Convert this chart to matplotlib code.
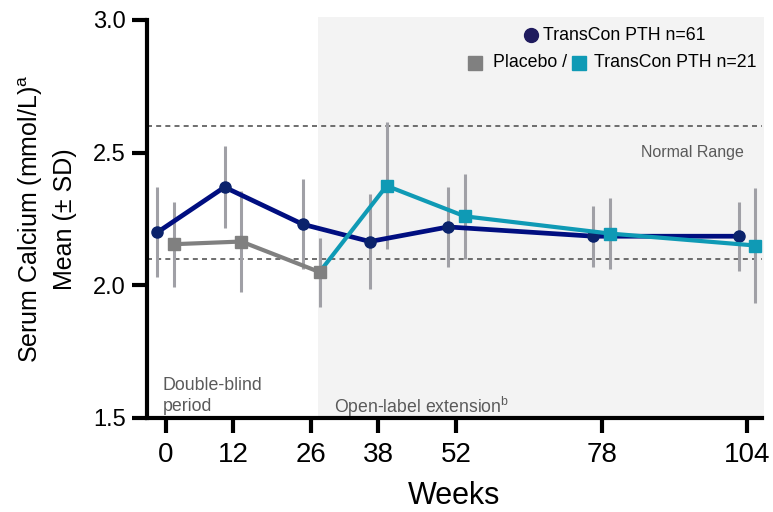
import numpy as np
import matplotlib
matplotlib.use("Agg")
import matplotlib.pyplot as plt
from matplotlib.patches import Rectangle

plt.rcParams['font.family'] = ['Liberation Sans', 'DejaVu Sans']

# data
weeks = [0, 12, 26, 38, 52, 78, 104]
tcp_mean = [2.20, 2.37, 2.23, 2.165, 2.22, 2.185, 2.185]
tcp_sd = [0.17, 0.155, 0.17, 0.18, 0.15, 0.115, 0.13]
pbo_mean = [2.155, 2.165, 2.05, 2.375, 2.26, 2.195, 2.15]
pbo_sd = [0.16, 0.19, 0.13, 0.24, 0.16, 0.135, 0.215]
n_blind = 3  # first 3 visits are placebo (double-blind)
normal_low, normal_high = 2.1, 2.6
ext_start = 27.3
offset = 1.5

NAVY_LINE = '#000e80'
NAVY_MARK = '#0b236c'
GRAY = '#808080'
TEAL = '#0f9ab5'
ERR = '#a0a0a6'
TXT = '#5a5a5a'

fig = plt.figure(figsize=(7.73, 5.12), dpi=100)
ax = fig.add_axes([0.190, 0.1836, 0.796, 0.7774])

x_t = np.array(weeks) - offset
x_p = np.array(weeks) + offset

# open-label shading
ax.add_patch(Rectangle((ext_start, 1.5), 107 - ext_start, 1.512, color='#f3f3f3',
                       zorder=0, clip_on=False, lw=0))

# normal range
for yv in (normal_low, normal_high):
    ax.axhline(yv, color='#555555', lw=1.2, ls=(0, (3, 2.5)), zorder=1)

# error bars
ax.errorbar(x_t, tcp_mean, yerr=tcp_sd, fmt='none', ecolor=ERR, elinewidth=2.2, capsize=0, zorder=2)
ax.errorbar(x_p, pbo_mean, yerr=pbo_sd, fmt='none', ecolor=ERR, elinewidth=2.2, capsize=0, zorder=2)

# TransCon PTH n=61
ax.plot(x_t, tcp_mean, color=NAVY_LINE, lw=3.4, zorder=3)
ax.plot(x_t, tcp_mean, 'o', color=NAVY_MARK, ms=8, zorder=4)

# Placebo then TransCon PTH n=21
ax.plot(x_p[:n_blind], pbo_mean[:n_blind], color=GRAY, lw=3, zorder=5)
ax.plot(x_p[n_blind - 1:], pbo_mean[n_blind - 1:], color=TEAL, lw=3, zorder=6)
ax.plot(x_p[:n_blind], pbo_mean[:n_blind], 's', color=GRAY, ms=8.5, zorder=7)
ax.plot(x_p[n_blind:], pbo_mean[n_blind:], 's', color=TEAL, ms=8.5, zorder=7)

ax.set_xlim(-3.4, 106.7)
ax.set_ylim(1.5, 3.0)
ax.set_xticks(weeks)
ax.set_yticks([1.5, 2.0, 2.5, 3.0])
ax.set_yticklabels(['1.5', '2.0', '2.5', '3.0'])
ax.tick_params(axis='both', width=3, length=11, direction='out')
ax.tick_params(axis='y', labelsize=17, pad=4)
ax.tick_params(axis='x', labelsize=20, pad=6)
for s in ('top', 'right'):
    ax.spines[s].set_visible(False)
for s in ('left', 'bottom'):
    ax.spines[s].set_linewidth(3)

ax.set_xlabel('Weeks', fontsize=22, labelpad=10)
ax.set_ylabel('Serum Calcium (mmol/L)$^{\\mathregular{a}}$\nMean (± SD)', fontsize=18,
              labelpad=12, linespacing=1.4)

# annotations
ax.text(103.5, 2.50, 'Normal Range', color=TXT, fontsize=11.5, ha='right', va='center')
ax.text(-0.6, 1.583, 'Double-blind\nperiod', color=TXT, fontsize=12.8, ha='left',
        va='center', linespacing=1.25)
ax.text(30.1, 1.543, 'Open-label extension$^{\\mathregular{b}}$', color=TXT, fontsize=12.7,
        ha='left', va='center')

# legend drawn by hand
tr = ax.transAxes
ax.plot([0.624], [0.962], 'o', color='#1f1b5e', ms=10, transform=tr, clip_on=False, zorder=8)
ax.text(0.643, 0.962, 'TransCon PTH n=61', transform=tr, fontsize=12.8, va='center', ha='left')
ax.plot([0.533], [0.892], 's', color=GRAY, ms=9.5, transform=tr, clip_on=False, zorder=8)
ax.text(0.562, 0.892, 'Placebo /', transform=tr, fontsize=12.8, va='center', ha='left')
ax.plot([0.703], [0.892], 's', color=TEAL, ms=9.5, transform=tr, clip_on=False, zorder=8)
ax.text(0.726, 0.892, 'TransCon PTH n=21', transform=tr, fontsize=12.8, va='center', ha='left')

fig.savefig('out.png', dpi=100)
